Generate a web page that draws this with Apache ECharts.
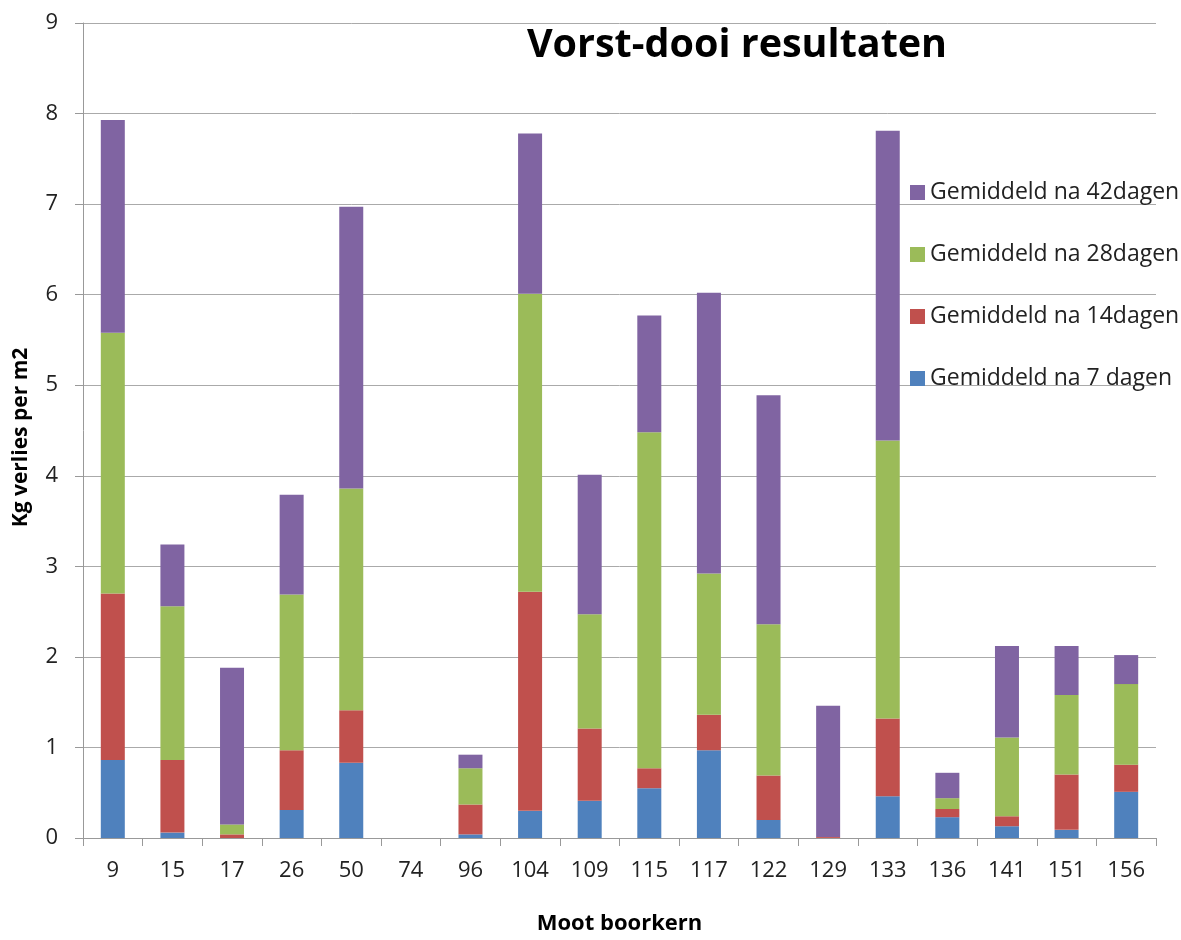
<!DOCTYPE html>
<html>
<head>
<meta charset="utf-8">
<script src="https://cdn.jsdelivr.net/npm/echarts@6/dist/echarts.min.js"></script>
<style>html,body{margin:0;padding:0;background:#fff;overflow:hidden}#c{width:1181px;height:940px}</style>
</head>
<body>
<div id="c"></div>
<script>
var categories = ['9','15','17','26','50','74','96','104','109','115','117','122','129','133','136','141','151','156'];
var dag7  = [0.86,0.06,0.00,0.31,0.83,0,0.04,0.30,0.41,0.55,0.97,0.20,0.00,0.46,0.23,0.13,0.09,0.51];
var dag14 = [1.84,0.80,0.04,0.66,0.58,0,0.33,2.42,0.80,0.22,0.39,0.49,0.01,0.86,0.09,0.11,0.61,0.30];
var dag28 = [2.88,1.70,0.11,1.72,2.45,0,0.40,3.29,1.26,3.71,1.56,1.67,0.00,3.07,0.12,0.87,0.88,0.89];
var dag42 = [2.35,0.68,1.73,1.10,3.11,0,0.15,1.77,1.54,1.29,3.10,2.53,1.45,3.42,0.28,1.01,0.54,0.32];
var yTicks = [0,1,2,3,4,5,6,7,8,9];

var names = ['Gemiddeld na 7 dagen','Gemiddeld na 14dagen','Gemiddeld na 28dagen','Gemiddeld na 42dagen'];
var colors = ['#4F81BD','#C0504D','#9BBB59','#8064A2'];
var font = 'Open Sans';
function mk(i, data){
  return {name:names[i], type:'bar', stack:'t', data:data, barWidth:24,
    itemStyle:{color:colors[i]}, emphasis:{disabled:true}};
}
var chart = echarts.init(document.getElementById('c'), null, {renderer:'canvas', width:1181, height:940});
chart.setOption({
  animation:false,
  backgroundColor:'#fff',
  title:{text:'Vorst-dooi resultaten', left:732, top:21, textAlign:'center',
    textStyle:{fontFamily:font, fontWeight:'bold', fontSize:39.5, color:'#000'}},
  legend:{orient:'vertical', left:905, top:176, itemWidth:15, itemHeight:15, itemGap:39,
    data:[names[3],names[2],names[1],names[0]],
    textStyle:{fontFamily:font, fontSize:23, lineHeight:23, color:'#222'},
    icon:'rect'},
  grid:{left:83, width:1073, top:23, height:834, containLabel:false},
  xAxis:{type:'category', data:categories, name:'Moot boorkern', nameLocation:'middle', nameGap:75,
    nameTextStyle:{fontFamily:font, fontWeight:'bold', fontSize:22, color:'#000'},
    axisLine:{lineStyle:{color:'#999'}},
    axisTick:{show:true, length:8, alignWithLabel:false, lineStyle:{color:'#999'}},
    axisLabel:{fontFamily:font, fontSize:22, color:'#222', margin:22}},
  yAxis:{type:'value', min:0, max:9, interval:1, name:'Kg verlies per m2', nameLocation:'middle', nameGap:51,
    nameTextStyle:{fontFamily:font, fontWeight:'bold', fontSize:21, color:'#000', padding:[0,14,0,0]},
    axisLine:{show:true, lineStyle:{color:'#999'}},
    axisTick:{show:true, length:8, lineStyle:{color:'#999'}},
    splitLine:{lineStyle:{color:'#aaa'}},
    axisLabel:{fontFamily:font, fontSize:22, color:'#222', margin:25,
      formatter:function(v){return yTicks.indexOf(v)>=0?String(v):'';}}},
  series:[mk(0,dag7), mk(1,dag14), mk(2,dag28), mk(3,dag42)]
});
</script>
</body>
</html>
